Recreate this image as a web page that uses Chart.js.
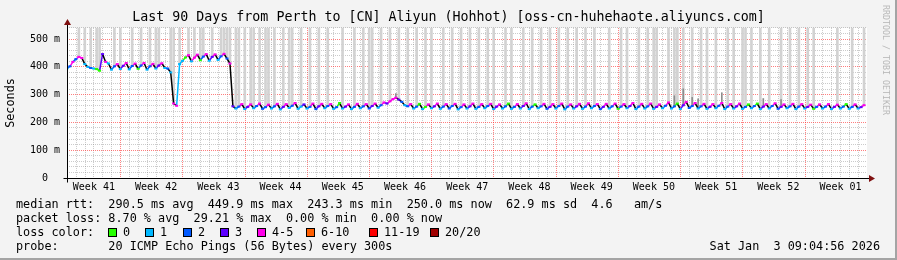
<!DOCTYPE html>
<html>
<head>
<meta charset="utf-8">
<script src="https://cdn.jsdelivr.net/npm/chart.js"></script>
<style>
  body { margin: 0; background: #f3f3f3; }
  #wrap { position: relative; width: 897px; height: 260px; overflow: hidden; background: #f3f3f3; }
  #wrap canvas { position: absolute; left: 0; top: 0; }
  .t { position: absolute; font-family: "DejaVu Sans Mono", monospace; font-size: 11.8px; line-height: 14px; white-space: pre; color: #000; }
  .sq { position: absolute; top: 228px; width: 7px; height: 7px; border: 1px solid #000; }
  #credit { position: absolute; left: 891px; top: 5px; font-family: "DejaVu Sans Mono", monospace; font-size: 8.3px; line-height: 10px; color: #b8b8b8; white-space: pre; transform-origin: 0 0; transform: rotate(90deg); }
  #edge { position: absolute; left: 0; top: 0; width: 897px; height: 260px; box-shadow: inset -2px -2px 0 #a4a4a4; pointer-events: none; }
</style>
</head>
<body>
<div id="wrap">
  <canvas id="smokeping" width="897" height="260"></canvas>
  <div id="credit">RRDTOOL / TOBI OETIKER</div>
  <div class="t" style="left:16px;top:197px">median rtt:  290.5 ms avg  449.9 ms max  243.3 ms min  250.0 ms now  62.9 ms sd  4.6   am/s</div>
  <div class="t" style="left:16px;top:211px">packet loss: 8.70 % avg  29.21 % max  0.00 % min  0.00 % now</div>
  <div class="t" style="left:16px;top:225px">loss color:</div>
  <div id="losskey"></div>
  <div class="t" style="left:16px;top:239px">probe:       20 ICMP Echo Pings (56 Bytes) every 300s</div>
  <div class="t" style="right:17px;top:239px">Sat Jan  3 09:04:56 2026</div>
  <div id="edge"></div>
</div>
<script>
// time axis is in days since the start of the 90 day window, 3 samples per day
const samplesPerDay = 3;
const firstMidnight = 0.525;
const weekStartDay = 6.525;
const weekLabels = ["Week 41", "Week 42", "Week 43", "Week 44", "Week 45", "Week 46", "Week 47",
  "Week 48", "Week 49", "Week 50", "Week 51", "Week 52", "Week 01"];

const yTickValues = [0, 100, 200, 300, 400, 500];
const yTickLabels = ["0  ", "100 m", "200 m", "300 m", "400 m", "500 m"];
const yMax = 540;

// median rtt in ms
const median = [
  395, 402, 418, 428, 436, 432, 410, 400, 396, 394, 392, 386, 446, 418, 412, 390, 402, 410, 392, 404, 414,
  391, 403, 412, 393, 405, 414, 390, 402, 411, 394, 405, 413, 396, 394, 380, 268, 260, 410, 422, 434, 442,
  420, 433, 444, 424, 437, 446, 422, 436, 445, 425, 438, 447, 430, 412, 258, 250, 257, 266, 248, 256, 265,
  251, 259, 268, 249, 255, 264, 250, 258, 267, 247, 256, 266, 252, 260, 270, 249, 257, 265, 250, 256, 268,
  248, 258, 267, 251, 259, 266, 249, 255, 270, 250, 257, 265, 248, 256, 267, 251, 258, 266, 250, 259, 268,
  253, 262, 272, 268, 276, 284, 289, 282, 274, 262, 258, 266, 250, 257, 267, 248, 256, 265, 251, 258, 268,
  249, 257, 266, 250, 259, 267, 247, 255, 265, 250, 258, 268, 249, 256, 266, 251, 259, 267, 248, 257, 265,
  250, 258, 268, 249, 256, 266, 250, 259, 269, 248, 257, 265, 251, 258, 267, 249, 256, 266, 250, 259, 268,
  247, 257, 265, 250, 258, 267, 249, 257, 269, 251, 259, 266, 248, 256, 267, 250, 258, 268, 249, 257, 266,
  251, 259, 270, 248, 257, 267, 250, 258, 268, 249, 256, 265, 251, 260, 272, 250, 258, 268, 248, 262, 274,
  252, 259, 270, 250, 258, 267, 249, 256, 266, 251, 260, 270, 248, 257, 266, 250, 258, 268, 249, 256, 265,
  251, 259, 268, 248, 257, 266, 250, 259, 269, 249, 256, 265, 251, 258, 267, 248, 257, 266, 250, 256, 264,
  249, 256, 265, 250, 257, 266, 248, 256, 264, 250, 257, 266, 249, 256, 265, 250, 255, 262
];

// lost pings (of 20) per sample
const loss = [
  1, 2, 4, 2, 4, 4, 1, 1, 2, 1, 0, 0, 3, 4, 1, 1, 2, 4, 1, 3, 4,
  1, 2, 4, 0, 2, 4, 1, 2, 4, 1, 3, 4, 1, 2, 1, 4, 4, 1, 1, 0, 4,
  1, 4, 4, 0, 2, 4, 1, 3, 4, 1, 2, 4, 2, 4, 3, 1, 2, 4, 1, 3, 4,
  1, 2, 4, 2, 2, 4, 1, 2, 5, 1, 3, 4, 1, 2, 4, 1, 1, 3, 1, 2, 4,
  2, 3, 4, 1, 2, 4, 1, 2, 0, 1, 3, 4, 1, 2, 4, 1, 2, 4, 2, 3, 4,
  1, 2, 4, 3, 4, 4, 4, 3, 2, 1, 2, 4, 1, 2, 0, 1, 0, 4, 1, 3, 4,
  1, 2, 4, 2, 2, 4, 1, 2, 4, 1, 3, 4, 1, 2, 5, 1, 2, 4, 1, 3, 4,
  1, 2, 0, 1, 2, 4, 1, 3, 4, 1, 2, 0, 1, 2, 4, 2, 3, 4, 1, 2, 4,
  1, 2, 4, 1, 3, 5, 1, 2, 4, 1, 2, 4, 2, 3, 4, 1, 2, 4, 0, 2, 4,
  1, 3, 4, 1, 2, 4, 1, 2, 4, 1, 3, 4, 1, 2, 5, 1, 2, 0, 1, 3, 4,
  2, 2, 4, 1, 2, 4, 1, 3, 4, 1, 2, 4, 1, 2, 4, 1, 3, 4, 1, 2, 0,
  1, 2, 0, 1, 3, 4, 1, 2, 4, 2, 3, 4, 1, 2, 4, 1, 2, 4, 1, 3, 4,
  0, 2, 4, 1, 2, 4, 1, 3, 4, 1, 2, 0, 1, 2, 4, 1, 3, 4
];

// samples whose smoke runs off the top of the graph
const smokeAt = [4, 6, 8, 10, 11, 16, 18, 22, 25, 28, 30, 31, 35, 36, 38, 41, 43, 45, 46, 49, 52, 53, 54, 55,
  57, 58, 60, 62, 63, 65, 67, 68, 70, 73, 75, 76, 79, 82, 85, 88, 93, 97, 100, 102, 103, 106, 109, 112, 115,
  118, 121, 123, 127, 130, 133, 136, 139, 142, 144, 148, 150, 154, 157, 160, 163, 166, 169, 172, 175, 178,
  183, 187, 189, 193, 196, 198, 199, 203, 205, 206, 208, 211, 214, 216, 219, 223, 225, 228, 229, 231, 234,
  237, 241, 244, 247, 250, 252, 260, 265, 269];

// shorter smoke spikes and their top in ms
const spikeAt = [111, 205, 208, 211, 213, 221, 235, 241];
const spikeTop = [304, 296, 321, 290, 285, 307, 286, 282];

const lossBuckets = [0, 1, 2, 3, 5, 10, 19, 20];
const lossNames = ["0", "1", "2", "3", "4-5", "6-10", "11-19", "20/20"];
const lossColors = ["#26ff00", "#00b8ff", "#0059ff", "#5e00ff", "#ff00ea", "#ff5e00", "#ff0000", "#a00000"];
const lossKeyX = [108, 145, 183, 220, 257, 306, 369, 430];

const lossColor = (n) => lossColors[lossBuckets.findIndex((b) => n <= b)];

const monoFont = "DejaVu Sans Mono";
const majorGrid = "rgba(255, 40, 40, 0.6)";
const minorGrid = "rgba(130, 130, 130, 0.42)";

// loss colour key under the graph
const key = document.getElementById("losskey");
lossNames.forEach((name, i) => {
  const sq = document.createElement("div");
  sq.className = "sq";
  sq.style.left = lossKeyX[i] + "px";
  sq.style.background = lossColors[i];
  key.appendChild(sq);
  const label = document.createElement("div");
  label.className = "t";
  label.style.left = lossKeyX[i] + 15 + "px";
  label.style.top = "225px";
  label.textContent = name;
  key.appendChild(label);
});

const dayTicks = [];
for (let d = firstMidnight; d < 90; d++) dayTicks.push(d);
const weekCenters = weekLabels.map((_, k) => weekStartDay - 3.5 + 7 * k);
const ySteps = [];
for (let v = 0; v <= yMax; v += 20) ySteps.push(v);

const isWeekLine = (c) => c.tick && Math.round(c.tick.value - firstMidnight) % 7 === 6;
const isHundred = (c) => c.tick && c.tick.value % 100 === 0;

const medianPoints = median.map((v, i) => ({ x: i / samplesPerDay, y: v }));

const rrdFrame = {
  id: "rrdFrame",
  beforeDraw(chart) {
    const { ctx, chartArea: a } = chart;
    ctx.save();
    ctx.fillStyle = "#ffffff";
    ctx.fillRect(a.left, a.top, a.right - a.left, a.bottom - a.top);
    ctx.restore();
  },
  afterDatasetsDraw(chart) {
    const { ctx, chartArea: a } = chart;
    const x0 = Math.round(a.left) + 0.5;
    const y0 = Math.round(a.bottom) + 0.5;
    ctx.save();
    ctx.strokeStyle = "#000";
    ctx.lineWidth = 1;
    ctx.beginPath();
    ctx.moveTo(x0, y0 + 4);
    ctx.lineTo(x0, a.top - 4);
    ctx.moveTo(x0 - 4, y0);
    ctx.lineTo(a.right + 3, y0);
    ctx.stroke();
    ctx.fillStyle = "#7f1010";
    ctx.beginPath();
    ctx.moveTo(x0 - 3.5, a.top - 3);
    ctx.lineTo(x0 + 3.5, a.top - 3);
    ctx.lineTo(x0, a.top - 9);
    ctx.closePath();
    ctx.fill();
    ctx.beginPath();
    ctx.moveTo(a.right + 2, y0 - 3.5);
    ctx.lineTo(a.right + 2, y0 + 3.5);
    ctx.lineTo(a.right + 8, y0);
    ctx.closePath();
    ctx.fill();
    ctx.restore();
  },
};

new Chart(document.getElementById("smokeping").getContext("2d"), {
  type: "line",
  data: {
    datasets: [
      {
        type: "bar",
        data: smokeAt.map((i) => ({ x: i / samplesPerDay, y: [median[i], yMax] })),
        backgroundColor: "#d2d2d2",
        barThickness: 2,
        grouped: false,
        order: 3,
        xAxisID: "x",
        yAxisID: "y",
      },
      {
        type: "bar",
        data: spikeAt.map((i, k) => ({ x: i / samplesPerDay, y: [median[i], spikeTop[k]] })),
        backgroundColor: "#8c8c8c",
        barThickness: 1,
        grouped: false,
        order: 2,
        xAxisID: "x",
        yAxisID: "y",
      },
      {
        type: "line",
        data: medianPoints,
        borderColor: "#000",
        borderWidth: 1.5,
        tension: 0,
        segment: {
          borderColor: (c) =>
            c.p1.parsed.y < c.p0.parsed.y - 6 ? "#000" : lossColor(loss[c.p1DataIndex]),
        },
        pointStyle: "line",
        pointRadius: 1.5,
        pointBorderWidth: 2,
        pointBorderColor: loss.map(lossColor),
        pointBackgroundColor: loss.map(lossColor),
        order: 1,
        xAxisID: "x",
        yAxisID: "y",
      },
    ],
  },
  options: {
    responsive: false,
    devicePixelRatio: 1,
    animation: false,
    events: [],
    layout: { padding: { left: 0, right: 0, top: 0, bottom: 64 } },
    plugins: {
      legend: { display: false },
      tooltip: { enabled: false },
      title: {
        display: true,
        text: "Last 90 Days from Perth to [CN] Aliyun (Hohhot) [oss-cn-huhehaote.aliyuncs.com]",
        color: "#000",
        font: { family: monoFont, size: 13.3, weight: "normal" },
        padding: { top: 10, bottom: 2 },
      },
    },
    scales: {
      x: {
        type: "linear",
        position: "bottom",
        min: 0,
        max: 90,
        offset: false,
        afterBuildTicks: (s) => {
          s.ticks = dayTicks.map((v) => ({ value: v }));
        },
        afterFit: (s) => {
          s.height = 0;
        },
        ticks: { display: false },
        grid: {
          drawTicks: false,
          color: (c) => (isWeekLine(c) ? majorGrid : minorGrid),
        },
        border: { display: false, color: "#000", dash: [1, 1] },
      },
      x2: {
        type: "linear",
        position: "bottom",
        min: 0,
        max: 90,
        offset: false,
        afterBuildTicks: (s) => {
          s.ticks = weekCenters.map((v) => ({ value: v }));
        },
        afterFit: (s) => {
          s.height = 18;
        },
        ticks: {
          autoSkip: false,
          maxRotation: 0,
          padding: 3,
          color: "#000",
          font: { family: monoFont, size: 10 },
          callback: (v, i) => weekLabels[i],
        },
        grid: { display: false, drawTicks: false },
        border: { display: false, color: "#000" },
      },
      y: {
        type: "linear",
        position: "left",
        min: 0,
        max: yMax,
        afterBuildTicks: (s) => {
          s.ticks = ySteps.map((v) => ({ value: v }));
        },
        afterFit: (s) => {
          s.width = 67;
        },
        ticks: {
          autoSkip: false,
          padding: 7,
          color: "#000",
          font: { family: monoFont, size: 10 },
          callback: (v) => {
            const k = yTickValues.indexOf(v);
            return k >= 0 ? yTickLabels[k] : "";
          },
        },
        grid: {
          drawTicks: false,
          color: (c) => (isHundred(c) ? majorGrid : minorGrid),
        },
        border: { display: false, color: "#000", dash: [1, 1] },
        title: {
          display: true,
          text: "Seconds",
          color: "#000",
          font: { family: monoFont, size: 11.8 },
          padding: { top: 4, bottom: 0 },
        },
      },
      y2: {
        type: "linear",
        position: "right",
        display: true,
        afterFit: (s) => {
          s.width = 30;
        },
        ticks: { display: false },
        grid: { display: false, drawTicks: false },
        border: { display: false, color: "#000" },
      },
    },
  },
  plugins: [rrdFrame],
});
</script>
</body>
</html>
